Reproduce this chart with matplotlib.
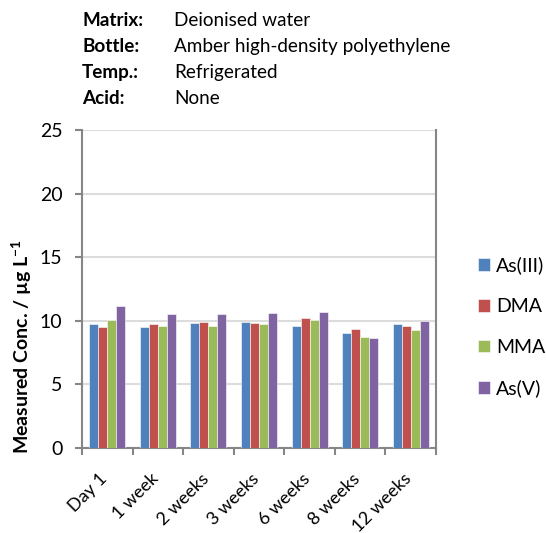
import numpy as np
import matplotlib.pyplot as plt
import matplotlib.transforms as mtransforms

plt.rcParams['font.family'] = ['Lato', 'DejaVu Sans']
plt.rcParams['mathtext.fontset'] = 'custom'
plt.rcParams['mathtext.rm'] = 'Lato'
plt.rcParams['mathtext.bf'] = 'Lato:bold'

# data
times = ['Day 1', '1 week', '2 weeks', '3 weeks', '6 weeks', '8 weeks', '12 weeks']
species = ['As(III)', 'DMA', 'MMA', 'As(V)']
as3 = [9.76, 9.55, 9.79, 9.94, 9.60, 9.05, 9.73]
dma = [9.55, 9.71, 9.94, 9.79, 10.20, 9.34, 9.58]
mma = [10.10, 9.60, 9.63, 9.76, 10.08, 8.74, 9.26]
as5 = [11.15, 10.52, 10.50, 10.60, 10.73, 8.66, 9.97]
colours = ['#4F81BD', '#C0504D', '#9BBB59', '#8064A2']

header = [('Matrix:', 'Deionised water'),
          ('Bottle:', 'Amber high-density polyethylene'),
          ('Temp.:', 'Refrigerated'),
          ('Acid:', 'None')]

W, H = 546, 533
fig = plt.figure(figsize=(W / 100, H / 100), dpi=100)
ax = fig.add_axes([82 / W, 1 - 448 / H, (436 - 82) / W, (448 - 130) / H])

x = np.arange(len(times))
w = 0.178
for i, (vals, c, name) in enumerate(zip([as3, dma, mma, as5], colours, species)):
    ax.bar(x + (i - 1.5) * w, vals, w, color=c, edgecolor='white', linewidth=0.4,
           label=name, zorder=3)

ax.set_xlim(-0.5, len(times) - 0.5)
ax.set_ylim(0, 25)
ax.set_yticks([0, 5, 10, 15, 20, 25])
ax.yaxis.grid(True, color='#DCDCDC', linewidth=1.5, zorder=0)
ax.set_axisbelow(True)

ax.set_xticks(x)
ax.set_xticklabels(times, rotation=45, ha='right', rotation_mode='anchor', fontsize=13)
ax.tick_params(axis='x', length=0, pad=12)
# nudge the rotated labels so their ends sit where the original has them
shift = mtransforms.ScaledTranslation(-8 / 100, -6 / 100, fig.dpi_scale_trans)
for lbl in ax.get_xticklabels():
    lbl.set_transform(lbl.get_transform() + shift)
ax.set_xticks(np.arange(-0.5, len(times)), minor=True)
ax.tick_params(axis='x', which='minor', length=5, color='#868686', width=1.5)
ax.tick_params(axis='y', labelsize=14, length=5, color='#868686', width=1.5, pad=9)

for s in ['left', 'bottom', 'right']:
    ax.spines[s].set_color('#868686')
    ax.spines[s].set_linewidth(1.5)
ax.spines['top'].set_visible(False)

fig.text(22 / W, 1 - 347 / H, r'Measured Conc. / µg L$^{\mathbf{-1}}$', fontsize=14,
         fontweight='bold', rotation=90, ha='center', va='center')

ax.legend(loc='center left', bbox_to_anchor=(478 / W, 1 - 327 / H),
          bbox_transform=fig.transFigure, frameon=False, fontsize=14,
          borderpad=0, borderaxespad=0,
          handlelength=0.62, handleheight=0.62, labelspacing=1.22, handletextpad=0.3)

for k, (lab, val) in enumerate(header):
    y = 1 - (20 + k * 26.3) / H
    fig.text(82 / W, y, lab, fontsize=13.6, fontweight='bold', va='center')
    fig.text(174 / W, y, val, fontsize=13.6, va='center')

fig.savefig('out.png', dpi=100)
